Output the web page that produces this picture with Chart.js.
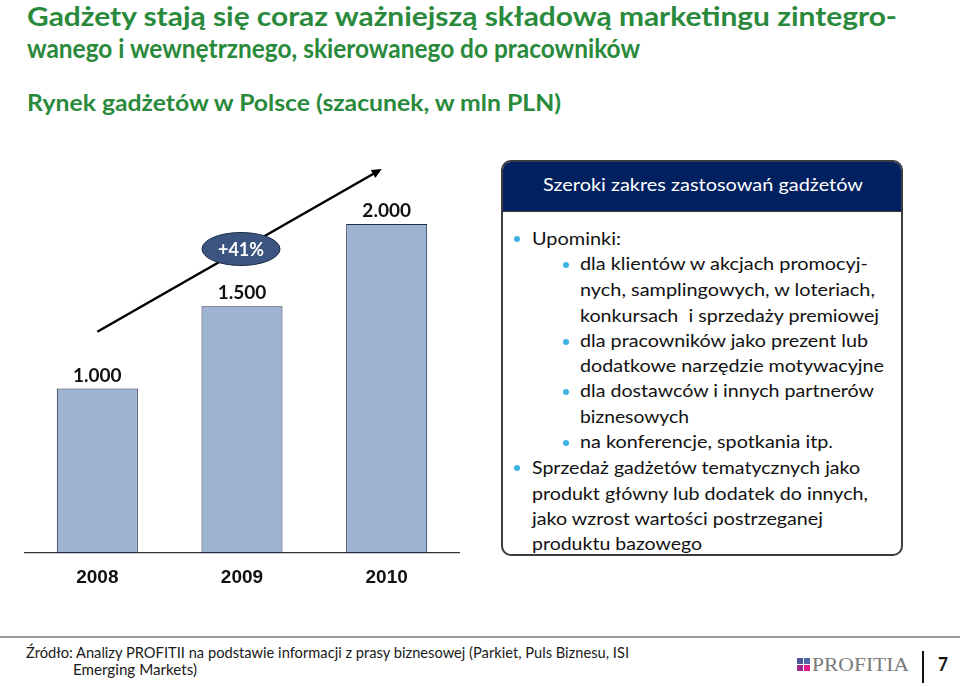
<!DOCTYPE html>
<html lang="pl">
<head>
<meta charset="utf-8">
<title>Rynek gadżetów w Polsce</title>
<script src="https://cdn.jsdelivr.net/npm/chart.js@4.4.1/dist/chart.umd.min.js"></script>
<style>
html, body { margin: 0; padding: 0; background: #fff; }
body { width: 960px; height: 687px; position: relative; overflow: hidden; }
.t { position: absolute; white-space: pre; line-height: 1; transform-origin: left top; }
.lato { font-family: Lato, "Open Sans", sans-serif; }
.title { color: #2a8a3c; font-weight: bold; }
.panel-txt { color: #111; }
.dot { position: absolute; width: 6px; height: 6px; border-radius: 50%; background: #3fb2e4; }
#chartBox { position: absolute; left: 0; top: 150px; width: 480px; height: 440px; }
#panel { position: absolute; left: 501px; top: 160px; width: 402px; height: 396px;
         border: 2px solid #3c3c3c; border-radius: 10px; overflow: hidden; box-sizing: border-box; }
#panelHead { position: absolute; left: 0; top: 0; right: 0; height: 49px; background: #002060;
             border-bottom: 1px solid #3c3c3c; }
#footLine { position: absolute; left: 0; top: 636px; width: 960px; height: 2px; background: #9c9c9c; }
.sq { position: absolute; width: 6px; height: 6px; }
</style>
</head>
<body>

<div class="t lato title" data-fs="27" data-x="27" data-b="26" data-w="870">Gadżety stają się coraz ważniejszą składową marketingu zintegro-</div>
<div class="t lato title" data-fs="27" data-x="27" data-b="58" data-w="613">wanego i wewnętrznego, skierowanego do pracowników</div>
<div class="t lato title" data-fs="22" data-x="27" data-b="112" data-w="534">Rynek gadżetów w Polsce (szacunek, w mln PLN)</div>

<div id="chartBox"><canvas id="marketChart" width="480" height="440"></canvas></div>

<div id="panel"><div id="panelHead"></div></div>
<div class="t lato" style="color:#fff" data-fs="17.5" data-x="543" data-b="192" data-w="320">Szeroki zakres zastosowań gadżetów</div>

<div class="dot" style="left:514px;top:236px"></div>
<div class="t lato panel-txt" data-fs="18" data-x="532" data-b="245" data-w="89">Upominki:</div>
<div class="dot" style="left:563px;top:262px"></div>
<div class="t lato panel-txt" data-fs="18" data-x="580" data-b="270" data-w="288">dla klientów w akcjach promocyj-</div>
<div class="t lato panel-txt" data-fs="18" data-x="580" data-b="296" data-w="295">nych, samplingowych, w loteriach,</div>
<div class="t lato panel-txt" data-fs="18" data-x="580" data-b="321.5" data-w="299">konkursach  i sprzedaży premiowej</div>
<div class="dot" style="left:563px;top:339px"></div>
<div class="t lato panel-txt" data-fs="18" data-x="580" data-b="346.5" data-w="288">dla pracowników jako prezent lub</div>
<div class="t lato panel-txt" data-fs="18" data-x="580" data-b="371.5" data-w="304">dodatkowe narzędzie motywacyjne</div>
<div class="dot" style="left:563px;top:389px"></div>
<div class="t lato panel-txt" data-fs="18" data-x="580" data-b="397" data-w="294">dla dostawców i innych partnerów</div>
<div class="t lato panel-txt" data-fs="18" data-x="580" data-b="422.5" data-w="109">biznesowych</div>
<div class="dot" style="left:563px;top:440px"></div>
<div class="t lato panel-txt" data-fs="18" data-x="580" data-b="447.5" data-w="253">na konferencje, spotkania itp.</div>
<div class="dot" style="left:514px;top:465px"></div>
<div class="t lato panel-txt" data-fs="18" data-x="532" data-b="474" data-w="328">Sprzedaż gadżetów tematycznych jako</div>
<div class="t lato panel-txt" data-fs="18" data-x="532" data-b="499.5" data-w="336">produkt główny lub dodatek do innych,</div>
<div class="t lato panel-txt" data-fs="18" data-x="532" data-b="524.5" data-w="291">jako wzrost wartości postrzeganej</div>
<div class="t lato panel-txt" data-fs="18" data-x="532" data-b="550" data-w="170">produktu bazowego</div>

<div id="footLine"></div>
<div class="t lato" style="color:#1a1a1a" data-fs="16" data-x="26" data-b="658" data-w="603">Źródło: Analizy PROFITII na podstawie informacji z prasy biznesowej (Parkiet, Puls Biznesu, ISI</div>
<div class="t lato" style="color:#1a1a1a" data-fs="16" data-x="73" data-b="675" data-w="124">Emerging Markets)</div>

<div class="sq" style="left:797px;top:658px;background:#4b5a96"></div>
<div class="sq" style="left:804px;top:658px;background:#5267a6"></div>
<div class="sq" style="left:797px;top:665px;background:#9c2a8c"></div>
<div class="sq" style="left:804px;top:665px;background:#e3198b"></div>
<div class="t" style="font-family:'Liberation Serif',serif;color:#7b7b7b" data-ff="serif" data-fs="19" data-x="812" data-b="671" data-w="97">PROFITIA</div>
<div style="position:absolute;left:922px;top:651px;width:1.5px;height:32px;background:#111"></div>
<div class="t lato" style="font-weight:bold;color:#111" data-fs="18" data-x="938" data-b="671" data-w="10">7</div>

<script>
// dane wykresu
const years = ['2008', '2009', '2010'];
const marketValues = [1000, 1500, 2000];   // mln PLN
const yRange = [0, 2000];
const growthText = '+41%';
const growthAt = [1, 1848];               // [indeks kategorii, wartość]
const trendStart = [0, 1345];
const trendEnd = [1.966, 2334];

function fmt(v) {
    return String(v).replace(/\B(?=(\d{3})+(?!\d))/g, '.');
}

// rozmieszczenie tekstów (linia bazowa + dopasowanie szerokości)
function placeTexts() {
    document.querySelectorAll('.t').forEach(el => {
        const fs = parseFloat(el.dataset.fs);
        const k = el.dataset.ff === 'serif' ? 0.8375 : 0.887;
        el.style.fontSize = fs + 'px';
        el.style.left = el.dataset.x + 'px';
        el.style.top = (parseFloat(el.dataset.b) - k * fs) + 'px';
        const w = el.getBoundingClientRect().width;
        if (el.dataset.w && w > 0) {
            el.style.transform = 'scaleX(' + (parseFloat(el.dataset.w) / w) + ')';
        }
    });
}

const overlayPlugin = {
    id: 'overlay',
    afterDatasetsDraw(chart) {
        const ctx = chart.ctx;
        const xs = chart.scales.x, ys = chart.scales.y;
        const meta = chart.getDatasetMeta(0);

        // wartości nad słupkami
        ctx.save();
        ctx.font = 'bold 19px Lato, sans-serif';
        ctx.fillStyle = '#111';
        ctx.textAlign = 'center';
        ctx.textBaseline = 'alphabetic';
        meta.data.forEach((bar, i) => {
            ctx.fillText(fmt(marketValues[i]), bar.x, bar.y - 7);
        });
        ctx.restore();

        // strzałka trendu
        const x0 = xs.getPixelForValue(trendStart[0]), y0 = ys.getPixelForValue(trendStart[1]);
        const x1 = xs.getPixelForValue(trendEnd[0]), y1 = ys.getPixelForValue(trendEnd[1]);
        const ang = Math.atan2(y1 - y0, x1 - x0);
        ctx.save();
        ctx.strokeStyle = '#000';
        ctx.fillStyle = '#000';
        ctx.lineWidth = 2.5;
        ctx.beginPath();
        ctx.moveTo(x0, y0);
        ctx.lineTo(x1 - 6 * Math.cos(ang), y1 - 6 * Math.sin(ang));
        ctx.stroke();
        ctx.beginPath();
        ctx.moveTo(x1, y1);
        ctx.lineTo(x1 - 10 * Math.cos(ang) + 4.5 * Math.sin(ang), y1 - 10 * Math.sin(ang) - 4.5 * Math.cos(ang));
        ctx.lineTo(x1 - 10 * Math.cos(ang) - 4.5 * Math.sin(ang), y1 - 10 * Math.sin(ang) + 4.5 * Math.cos(ang));
        ctx.closePath();
        ctx.fill();
        ctx.restore();

        // owal z przyrostem
        const cx = xs.getPixelForValue(growthAt[0]) - 1, cy = ys.getPixelForValue(growthAt[1]);
        ctx.save();
        ctx.beginPath();
        ctx.ellipse(cx, cy, 39, 16.5, 0, 0, Math.PI * 2);
        ctx.fillStyle = '#3b5480';
        ctx.fill();
        ctx.lineWidth = 1;
        ctx.strokeStyle = '#1e2d4c';
        ctx.stroke();
        ctx.font = 'bold 18px Lato, sans-serif';
        ctx.fillStyle = '#fff';
        ctx.textAlign = 'center';
        ctx.textBaseline = 'middle';
        ctx.fillText(growthText, cx, cy + 1);
        ctx.restore();
    }
};

function drawChart() {
    const ctx = document.getElementById('marketChart').getContext('2d');
    new Chart(ctx, {
        type: 'bar',
        data: {
            labels: years,
            datasets: [{
                data: marketValues,
                backgroundColor: '#9eb2d2',
                borderColor: '#1f2a44',
                borderWidth: 1,
                borderSkipped: false,
                barPercentage: 0.56,
                categoryPercentage: 1
            }]
        },
        options: {
            responsive: false,
            animation: false,
            layout: { padding: { left: 25, right: 21, top: 74, bottom: 0 } },
            plugins: { legend: { display: false }, tooltip: { enabled: false } },
            scales: {
                x: {
                    grid: { display: false },
                    border: { display: true, color: '#333', width: 1.2 },
                    afterFit(scale) { scale.height = 37; },
                    ticks: {
                        color: '#111',
                        padding: 5,
                        font: { family: 'Liberation Sans, Arial, sans-serif', size: 19, weight: 'bold' }
                    }
                },
                y: { display: false, min: yRange[0], max: yRange[1] }
            }
        },
        plugins: [overlayPlugin]
    });
}

window.addEventListener('load', () => {
    placeTexts();
    drawChart();
});
</script>
</body>
</html>
